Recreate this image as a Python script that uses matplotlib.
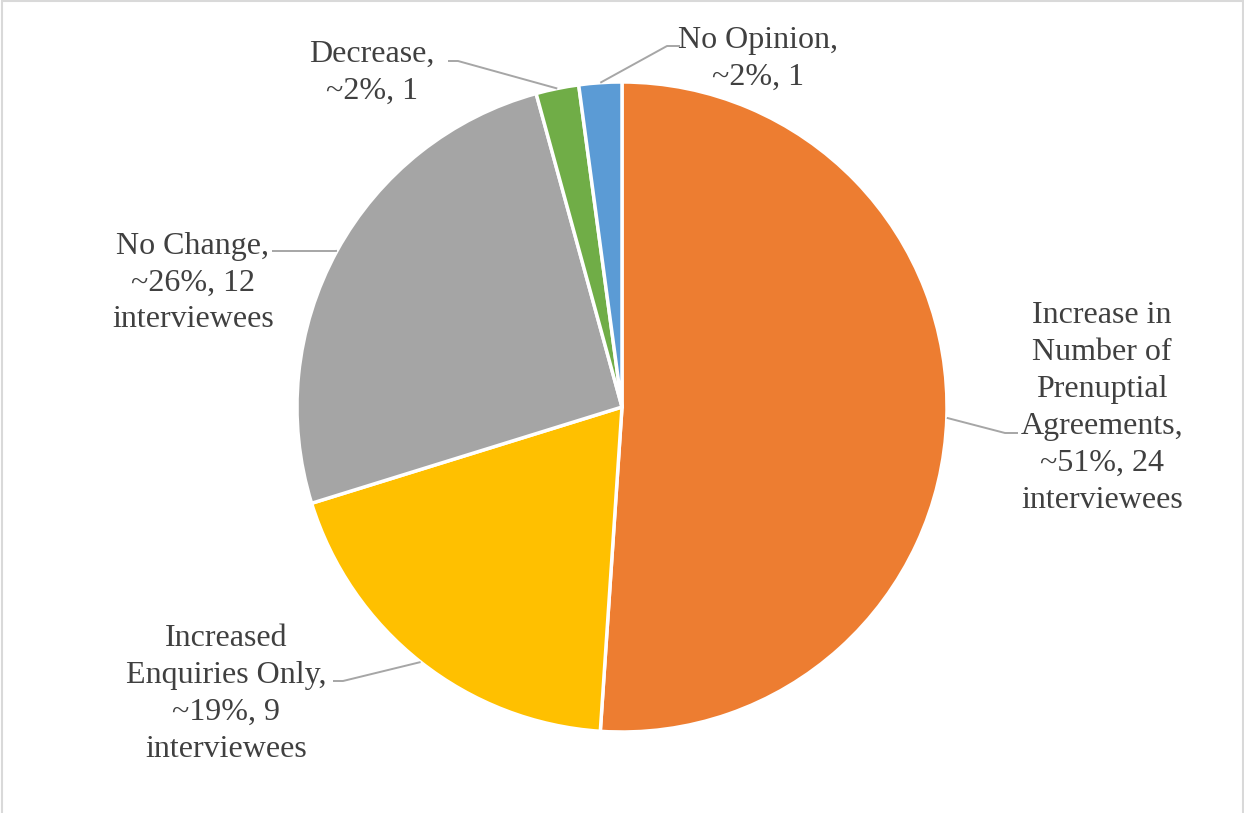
import numpy as np
import matplotlib.pyplot as plt
from matplotlib.patches import Rectangle

# survey answers, clockwise from 12 o'clock
categories = ["Increase in\nNumber of\nPrenuptial\nAgreements",
              "Increased\nEnquiries Only",
              "No Change",
              "Decrease",
              "No Opinion"]
counts = [24, 9, 12, 1, 1]
suffix = [" interviewees", " interviewees", " interviewees", "", ""]
colors = ["#ED7D31", "#FFC000", "#A5A5A5", "#70AD47", "#5B9BD5"]

W, H = 1244, 813
total = sum(counts)
labels = []
for cat, n, s in zip(categories, counts, suffix):
    pct = round(n / total * 100)
    tail = f"~{pct}%, {n}"
    if s:
        tail += "\n" + s.strip()
    labels.append(f"{cat},\n{tail}")

# label centres and leader elbows, in pixels from the top-left corner
label_xy = [(1102, 408), (226, 694), (193, 283), (372, 73), (758, 59)]
elbows = [[(1005, 433), (1018, 433)],
          [(343, 681), (333, 681)],
          [(335, 251), (272, 251)],
          [(458, 61), (448, 61)],
          [(667, 46), (680, 46)]]

plt.rcParams['font.family'] = ['Liberation Serif', 'DejaVu Serif']

fig = plt.figure(figsize=(W / 100, H / 100), dpi=100)
ax = fig.add_axes([0, 0, 1, 1])

cx, cy, r = 622, H - 407, 325
wedges, _ = ax.pie(counts, colors=colors, startangle=90, counterclock=False,
                   center=(cx, cy), radius=r, frame=True,
                   wedgeprops=dict(edgecolor='white', linewidth=2.5))
ax.set_xlim(0, W)
ax.set_ylim(0, H)
ax.set_aspect('equal')
ax.axis('off')

for w, lab, (tx, ty), pts in zip(wedges, labels, label_xy, elbows):
    mid = np.deg2rad((w.theta1 + w.theta2) / 2)
    sx, sy = cx + r * np.cos(mid), cy + r * np.sin(mid)
    xs = [sx] + [p[0] for p in pts]
    ys = [sy] + [H - p[1] for p in pts]
    ax.plot(xs, ys, color='#A6A6A6', lw=1.4, solid_capstyle='butt')
    ax.text(tx, H - ty, lab, ha='center', va='center', multialignment='center',
            fontsize=23, color='#404040', linespacing=1.36)

# chart area border
fig.patches.append(Rectangle((2 / W, -0.05), (W - 3.5) / W, 1.05 - 0.6 / H,
                             transform=fig.transFigure, fill=False,
                             edgecolor='#D9D9D9', lw=1.5))

fig.savefig('out.png', dpi=100, facecolor='white')
